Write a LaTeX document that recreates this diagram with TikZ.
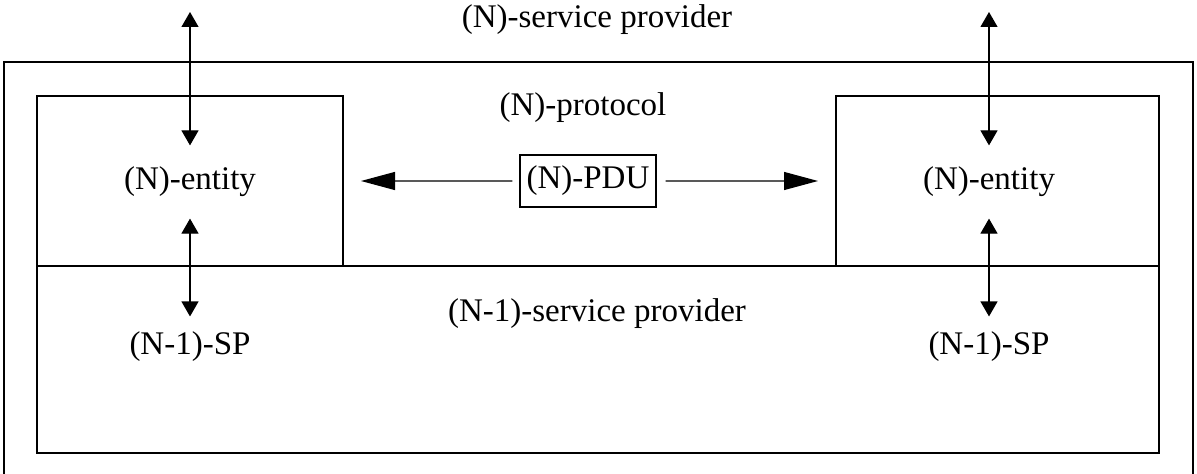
\documentclass[tikz,border=0pt]{standalone}
\usepackage{fontspec}
\setmainfont{Liberation Serif}
\usetikzlibrary{arrows.meta, positioning}

\begin{document}
\begin{tikzpicture}[x=1bp, y=-1bp, line width=1.2bp,
        box/.style={draw, inner sep=0pt, outer sep=0pt},
        lbl/.style={inner sep=0pt, font=\fontsize{33bp}{38bp}\selectfont},
        vtip/.style={{Triangle[width=17bp,length=15bp]}-{Triangle[width=17bp,length=15bp]}},
        htip/.style={-{Triangle[width=18bp,length=34bp]}}]
  \useasboundingbox (0,0) rectangle (1197,474);
  % outer frame of the (N)-service provider, open at the bottom
  \draw (4,474) -- (4,62) -- (1193,62) -- (1193,474);
  \node[box, minimum width=1122bp, minimum height=187bp, anchor=north west] (lower) at (37,266) {};
  \node[box, minimum width=306bp, minimum height=170bp, anchor=north west] (lbox) at (37,96) {};
  \node[box, minimum width=323bp, minimum height=170bp, anchor=north west] (rbox) at (836,96) {};

  \node[lbl] (sp) at (597,20) {(N)-service provider};
  \node[lbl] (proto) at (583,108) {(N)-protocol};
  \node[lbl, draw, minimum width=136bp, minimum height=52bp] (pdu) at (588,181) {(N)-PDU};
  \node[lbl] (lent) at (190,182) {(N)-entity};
  \node[lbl] (rent) at (989,182) {(N)-entity};
  \node[lbl] (nsp) at (597,314) {(N-1)-service provider};
  \node[lbl] (lsp) at (190,347) {(N-1)-SP};
  \node[lbl] (rsp) at (989,347) {(N-1)-SP};
  \coordinate (ltop) at (190,12);
  \coordinate (rtop) at (989,12);

  % service access arrows
  \draw[vtip] (ltop) -- ([yshift=21bp]lent.north);
  \draw[vtip] ([yshift=-21bp]lent.south) -- ([yshift=15bp]lsp.north);
  \draw[vtip] (rtop) -- ([yshift=21bp]rent.north);
  \draw[vtip] ([yshift=-21bp]rent.south) -- ([yshift=15bp]rsp.north);
  % peer exchange of the PDU
  \draw[htip] ([xshift=-7bp]pdu.west) -- ([xshift=18bp]lbox.east);
  \draw[htip] ([xshift=9bp]pdu.east) -- ([xshift=-18bp]rbox.west);
\end{tikzpicture}
\end{document}
